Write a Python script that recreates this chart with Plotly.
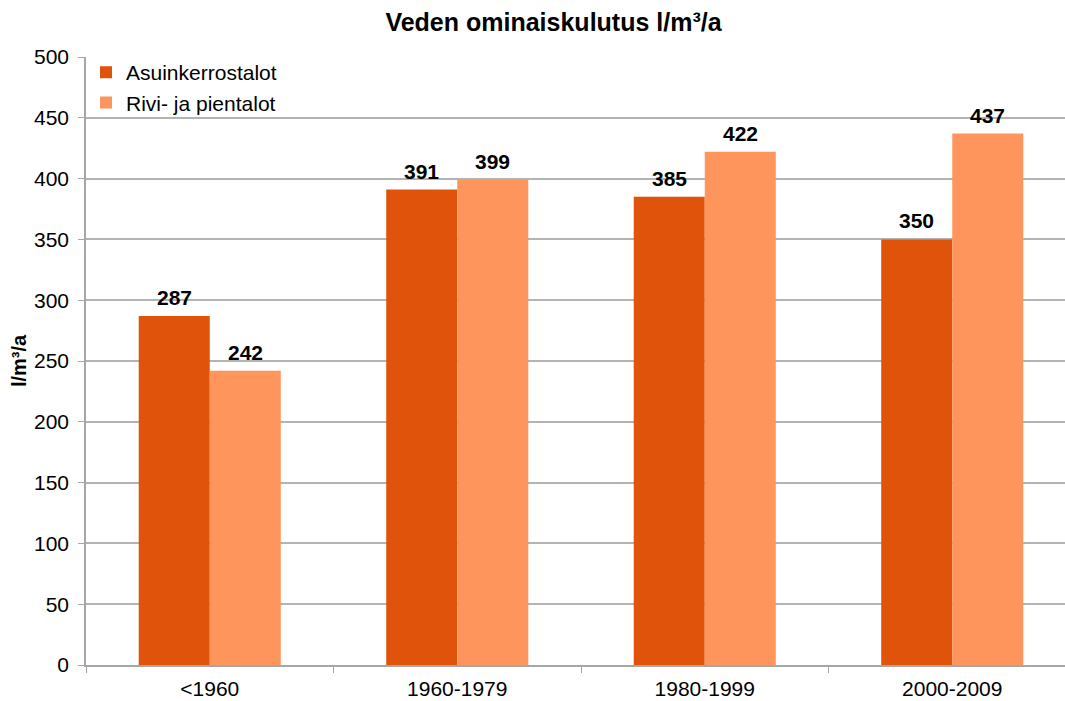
import plotly.graph_objects as go

categories = ["<1960", "1960-1979", "1980-1999", "2000-2009"]
asuinkerrostalot = [287, 391, 385, 350]
rivi_pientalot = [242, 399, 422, 437]
series_names = ["Asuinkerrostalot", "Rivi- ja pientalot"]
title_text = "Veden ominaiskulutus l/m³/a"
y_title = "l/m³/a"

W, H = 1065, 701
ml, mr, mt, mb = 86, 0, 57, 36
cat_px = 247.5
plot_w = W - ml - mr
FONT = "Liberation Sans, Arial"
BARGAP = 0.426
colors = ["#E0530A", "#FD955C"]
series = [asuinkerrostalot, rivi_pientalot]

fig = go.Figure()
for name, vals, col in zip(series_names, series, colors):
    fig.add_trace(go.Bar(
        x=categories, y=vals, name=name,
        marker=dict(color=col, line=dict(width=0)),
        cliponaxis=False,
    ))

# value labels above bars (offset from category centre by half a bar width)
n = len(series)
bar_w = (1 - BARGAP) / n
for si, vals in enumerate(series):
    off = (si - (n - 1) / 2) * bar_w
    for ci, v in enumerate(vals):
        fig.add_annotation(
            x=ci + off, y=v, xref="x", yref="y", text="<b>%d</b>" % v,
            showarrow=False, yanchor="bottom", xanchor="center", yshift=5,
            font=dict(family=FONT, size=21, color="black"),
        )

fig.update_layout(
    width=W, height=H, autosize=False,
    margin=dict(l=ml, r=mr, t=mt, b=mb, autoexpand=False),
    paper_bgcolor="white", plot_bgcolor="white",
    font=dict(family=FONT, size=21, color="black"),
    barmode="group", bargap=BARGAP, bargroupgap=0,
    title=dict(text="<b>" + title_text + "</b>", x=553.5 / W, xanchor="center",
               xref="container", y=1 - 22 / H, yanchor="middle",
               font=dict(size=25, color="black")),
    legend=dict(x=0.0, y=1.008, xanchor="left", yanchor="top",
                bgcolor="rgba(0,0,0,0)", font=dict(size=21),
                traceorder="normal"),
)
fig.update_xaxes(
    type="category", automargin=False,
    range=[-0.5, -0.5 + plot_w / cat_px],
    showline=True, linecolor="#A6A6A6", linewidth=1.5,
    ticks="outside", tickson="boundaries", ticklen=6, tickcolor="#A6A6A6",
    showgrid=False, tickfont=dict(size=21), ticklabelstandoff=4,
)
fig.update_yaxes(
    range=[0, 500], dtick=50, automargin=False,
    showline=True, linecolor="#A6A6A6", linewidth=1.5,
    ticks="outside", ticklen=6, tickcolor="#A6A6A6",
    showgrid=True, gridcolor="#B3B3B3", gridwidth=1.5,
    zeroline=False, tickfont=dict(size=21), ticklabelstandoff=5,
    title=dict(text="<b>" + y_title + "</b>", font=dict(size=20), standoff=2),
)

fig.write_html(
    "out.html",
    config={"responsive": False, "displayModeBar": False},
    post_script="document.body.style.margin='0';document.body.style.overflow='hidden';",
)
